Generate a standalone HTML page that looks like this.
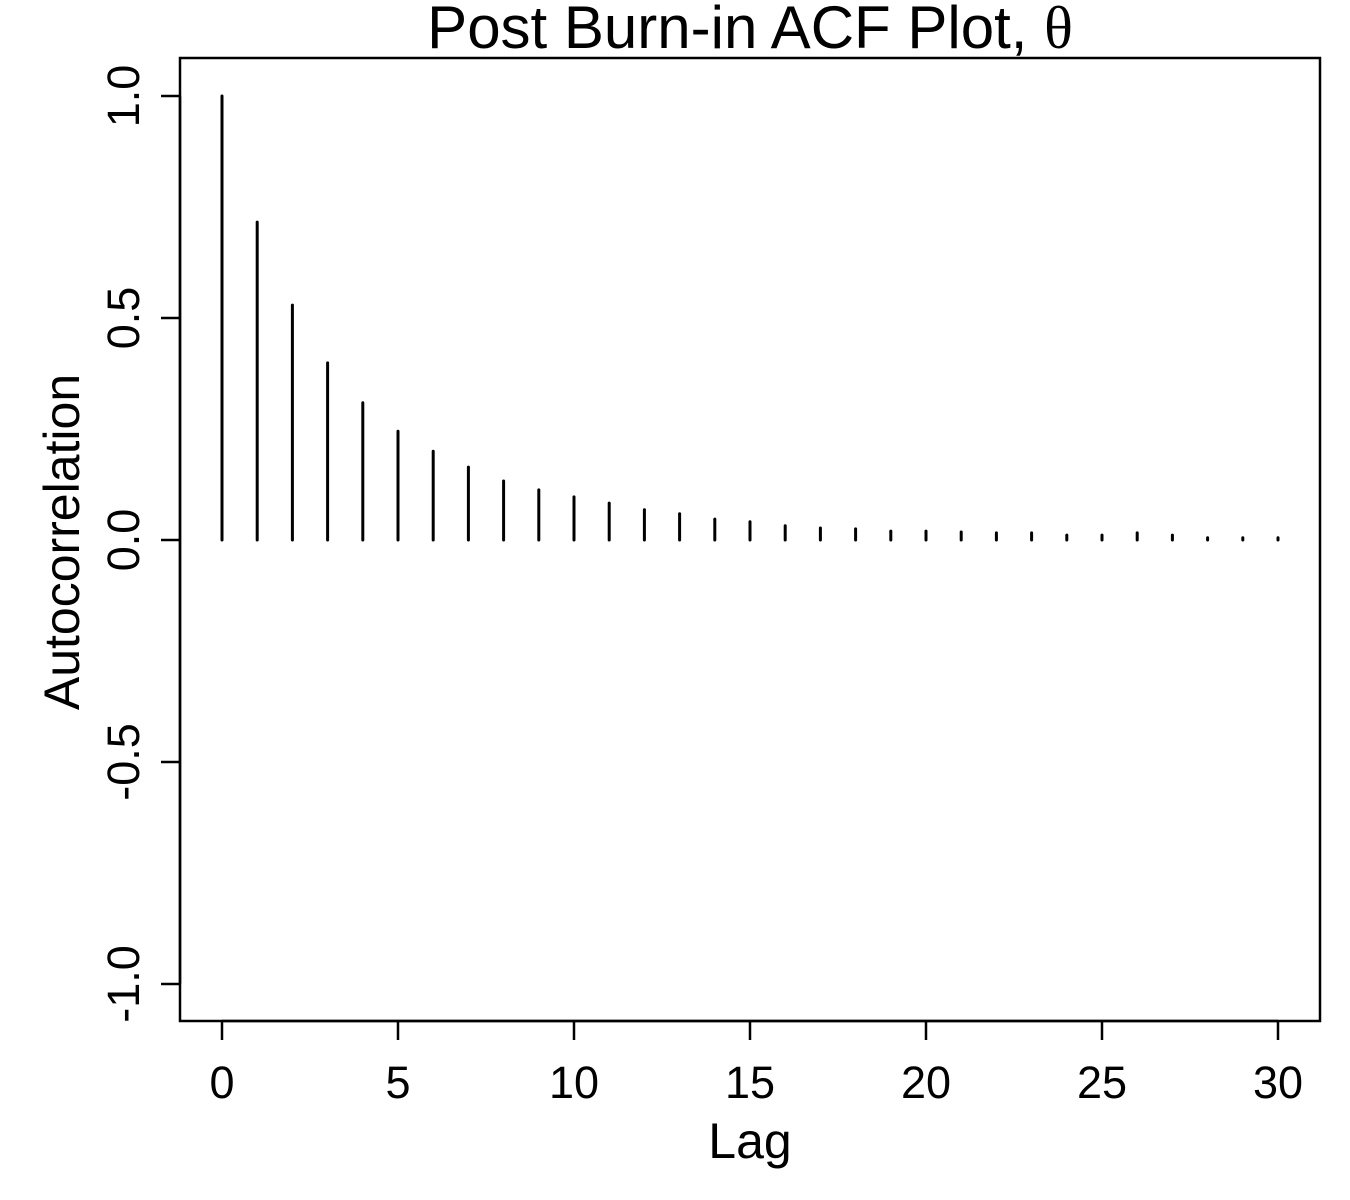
<!DOCTYPE html>
<html><head><meta charset="utf-8"><style>body{margin:0;background:#fff}svg{display:block}text{font-family:"Liberation Sans",sans-serif;fill:#000}</style></head>
<body>
<svg id="c" width="1350" height="1200"></svg>
<script>
const lags=[0,1,2,3,4,5,6,7,8,9,10,11,12,13,14,15,16,17,18,19,20,21,22,23,24,25,26,27,28,29,30];
const acf=[1,0.716,0.529,0.399,0.309,0.245,0.2,0.164,0.133,0.113,0.097,0.083,0.068,0.059,0.047,0.041,0.032,0.027,0.025,0.02,0.02,0.018,0.016,0.016,0.011,0.011,0.016,0.011,0.005,0.005,0.005];
const xTicks=[0,5,10,15,20,25,30];
const yTicks=[-1.0,-0.5,0.0,0.5,1.0];
const X=v=>222+v*(1278-222)/30, Y=v=>540-v*444;
const s=document.getElementById('c'),NS='http://www.w3.org/2000/svg';
function mk(t,a,txt){const e=document.createElementNS(NS,t);for(const k in a)e.setAttribute(k,a[k]);if(txt!=null)e.textContent=txt;s.appendChild(e);return e;}
let e=mk('rect',{x:180,y:58,width:1140,height:963,fill:'none',stroke:'#000','stroke-width':2.5});


e=mk('text',{x:750,y:48,'font-size':60,'text-anchor':'middle'});


e.innerHTML='Post Burn-in ACF Plot, <tspan style="font-family:\'Liberation Serif\',serif">\u03b8</tspan>';
e=mk('line',{x1:X(0),x2:X(30),y1:1021,y2:1021,stroke:'#000','stroke-width':2.5});


xTicks.forEach(t=>{
 e=mk('line',{x1:X(t),x2:X(t),y1:1021,y2:1040,stroke:'#000','stroke-width':2.5});
 
 
 e=mk('text',{x:X(t),y:1098,'font-size':45,'text-anchor':'middle'},String(t));
 
 
});
e=mk('line',{x1:180,x2:180,y1:Y(1),y2:Y(-1),stroke:'#000','stroke-width':2.5});


yTicks.forEach(t=>{
 e=mk('line',{x1:161,x2:180,y1:Y(t),y2:Y(t),stroke:'#000','stroke-width':2.5});
 
 
 e=mk('text',{x:0,y:0,'font-size':45,'text-anchor':'middle',transform:`translate(139,${Y(t)}) rotate(-90)`},t.toFixed(1));
 
 
});
e=mk('text',{x:0,y:0,'font-size':50,'text-anchor':'middle',transform:'translate(79,542) rotate(-90)'},'Autocorrelation');


e=mk('text',{x:750,y:1158,'font-size':50,'text-anchor':'middle'},'Lag');


lags.forEach((l,i)=>{
 e=mk('line',{x1:X(l),x2:X(l),y1:Y(0),y2:Y(acf[i]),stroke:'#000','stroke-width':3,'stroke-linecap':'round'});
 
 
});
</script>
</body></html>
